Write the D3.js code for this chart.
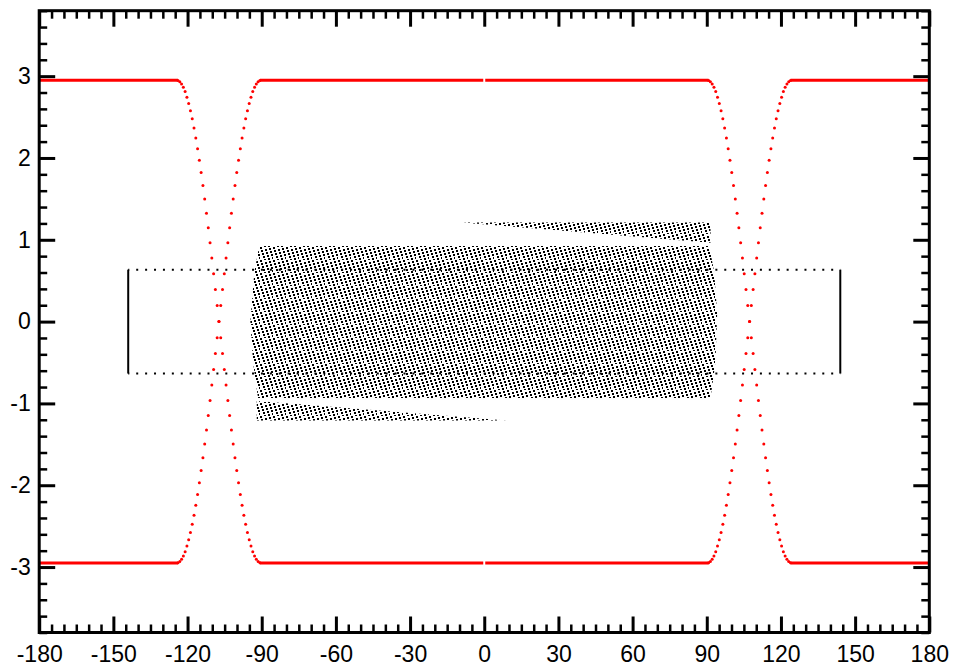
<!DOCTYPE html>
<html><head><meta charset="utf-8">
<script src="https://cdn.jsdelivr.net/npm/d3@7"></script>
<style>body{margin:0;background:#fff}svg{display:block}</style>
</head><body><svg id="c" width="956" height="670"></svg>
<script>
// ---------- data ----------
const xTicks = [-180,-150,-120,-90,-60,-30,0,30,60,90,120,150,180];
const yTicks = [-3,-2,-1,0,1,2,3];

// red curves: flat segments (at +/- level) and dotted transitions
const redLevels = [2.95, -2.95];
const flatStart = [-180, -90.74, 0.4, 123.86];
const flatEnd   = [-123.86, -0.4, 90.74, 180];
const transLeftX = [-123.86,-123.14,-122.42,-121.70,-120.98,-120.26,-119.54,-118.82,-118.10,-117.38,-116.66,-115.94,-115.22,-114.50,-113.78,-113.06,-112.34,-111.62,-110.90,-110.18,-109.46,-108.74,-108.02,-107.30,-106.58,-105.86,-105.14,-104.42,-103.70,-102.98,-102.26,-101.54,-100.82,-100.10,-99.38,-98.66,-97.94,-97.22,-96.50,-95.78,-95.06,-94.34,-93.62,-92.90,-92.18,-91.46,-90.74];
const transRightX = [90.74,91.46,92.18,92.90,93.62,94.34,95.06,95.78,96.50,97.22,97.94,98.66,99.38,100.10,100.82,101.54,102.26,102.98,103.70,104.42,105.14,105.86,106.58,107.30,108.02,108.74,109.46,110.18,110.90,111.62,112.34,113.06,113.78,114.50,115.22,115.94,116.66,117.38,118.10,118.82,119.54,120.26,120.98,121.70,122.42,123.14,123.86];
const transDescY = [2.948,2.933,2.905,2.865,2.812,2.743,2.667,2.578,2.478,2.367,2.245,2.113,1.971,1.821,1.663,1.497,1.325,1.147,0.963,0.776,0.585,0.391,0.196,0,-0.196,-0.391,-0.585,-0.776,-0.963,-1.147,-1.325,-1.497,-1.663,-1.821,-1.971,-2.113,-2.245,-2.367,-2.478,-2.578,-2.667,-2.743,-2.812,-2.865,-2.905,-2.933,-2.948];
const transAscY = [-2.948,-2.933,-2.905,-2.865,-2.812,-2.743,-2.667,-2.578,-2.478,-2.367,-2.245,-2.113,-1.971,-1.821,-1.663,-1.497,-1.325,-1.147,-0.963,-0.776,-0.585,-0.391,-0.196,0,0.196,0.391,0.585,0.776,0.963,1.147,1.325,1.497,1.663,1.821,1.971,2.113,2.245,2.367,2.478,2.578,2.667,2.743,2.812,2.865,2.905,2.933,2.948];

// black rectangle trace
const rectX = [-144, 144];
const rectY = [-0.635, 0.635];

// black dense dot cloud regions (outline vertices)
const blockX = [-91, 91, 93, 94.2, 93.5, 91.5, -91.5, -93.5, -94.6, -93];
const blockY = [0.925, 0.925, 0.6, 0.1, -0.5, -0.935, -0.935, -0.5, 0, 0.6];
const wedgeTopX = [-8.8, 91.5, 91.5];
const wedgeTopY = [1.21, 1.21, 0.965];
const wedgeBotX = [9.0, -92, -92];
const wedgeBotY = [-1.21, -1.21, -0.97];

// ---------- chart ----------
const svg = d3.select("#c");
svg.append("rect").attr("width",956).attr("height",670).attr("fill","#fff");
const L = 39.2, R = 929.3, T = 10.7, B = 632.5;
const x = d3.scaleLinear().domain([-180,180]).range([L,R]);
const y = d3.scaleLinear().domain([-3.8,3.8]).range([B,T]);

// dot-lattice texture (13x13 tile, slanted rows)
const defs = svg.append("defs");
const pat = defs.append("pattern").attr("id","lat")
  .attr("patternUnits","userSpaceOnUse").attr("width",13).attr("height",13);
pat.selectAll("rect").data(d3.range(13)).join("rect")
  .attr("x",k=>k).attr("y",k=>(3*k)%13).attr("width",2).attr("height",2)
  .attr("fill","#000").attr("shape-rendering","crispEdges");

const poly = d3.line().x(d=>x(d[0])).y(d=>y(d[1])).curve(d3.curveLinearClosed);
const regions = [
  d3.zip(blockX, blockY),
  d3.zip(wedgeTopX, wedgeTopY),
  d3.zip(wedgeBotX, wedgeBotY)
];
svg.append("g").selectAll("path").data(regions).join("path")
  .attr("d", poly).attr("fill","url(#lat)");

// rectangle: dotted horizontals, solid verticals
const gRect = svg.append("g");
gRect.selectAll("line.h").data(rectY).join("line").attr("class","h")
  .attr("x1",x(rectX[0])).attr("x2",x(rectX[1]))
  .attr("y1",d=>y(d)).attr("y2",d=>y(d))
  .attr("stroke","#000").attr("stroke-width",2)
  .attr("stroke-dasharray","2,6.91").attr("stroke-dashoffset",0.91);
gRect.selectAll("line.v").data(rectX).join("line").attr("class","v")
  .attr("x1",d=>x(d)).attr("x2",d=>x(d))
  .attr("y1",y(rectY[0])).attr("y2",y(rectY[1]))
  .attr("stroke","#000").attr("stroke-width",2);

// red curves
const red = "#ff0000";
const gRed = svg.append("g");
redLevels.forEach(lv => {
  flatStart.forEach((s,i) => {
    gRed.append("line").attr("x1",x(s)).attr("x2",x(flatEnd[i]))
      .attr("y1",y(lv)).attr("y2",y(lv))
      .attr("stroke",red).attr("stroke-width",3);
  });
});
const dots = [];
[transLeftX, transRightX].forEach(xs => {
  xs.forEach((xv,i) => { dots.push([xv, transDescY[i]]); dots.push([xv, transAscY[i]]); });
});
gRed.selectAll("circle").data(dots).join("circle")
  .attr("cx",d=>x(d[0])).attr("cy",d=>y(d[1])).attr("r",1.5).attr("fill",red);

// axes
const fmt = d => String(d);
const minorX = d3.range(-180, 181, 5).filter(v => v % 30 !== 0);
const minorY = d3.range(-19, 20).map(v => +(v*0.2).toFixed(1)).filter(v => Math.abs(v - Math.round(v)) > 1e-6);
function style(g, w){
  g.select(".domain").remove();
  g.selectAll("line").attr("stroke","#000").attr("stroke-width",w);
  g.attr("font-family","'Liberation Sans', Arial, sans-serif").attr("font-size",23);
  g.selectAll("text").attr("fill","#000");
}
svg.append("g").attr("transform",`translate(0,${B})`)
  .call(d3.axisBottom(x).tickValues(xTicks).tickSize(-16).tickSizeOuter(0).tickPadding(13).tickFormat(fmt))
  .call(g=>style(g,3));
svg.append("g").attr("transform",`translate(0,${B})`)
  .call(d3.axisBottom(x).tickValues(minorX).tickSize(-8).tickSizeOuter(0).tickFormat(""))
  .call(g=>style(g,2.5));
svg.append("g").attr("transform",`translate(0,${T})`)
  .call(d3.axisTop(x).tickValues(xTicks).tickSize(-16).tickSizeOuter(0).tickFormat(""))
  .call(g=>style(g,3));
svg.append("g").attr("transform",`translate(0,${T})`)
  .call(d3.axisTop(x).tickValues(minorX).tickSize(-8).tickSizeOuter(0).tickFormat(""))
  .call(g=>style(g,2.5));
svg.append("g").attr("transform",`translate(${L},0)`)
  .call(d3.axisLeft(y).tickValues(yTicks).tickSize(-16).tickSizeOuter(0).tickPadding(8.5).tickFormat(fmt))
  .call(g=>style(g,3));
svg.append("g").attr("transform",`translate(${L},0)`)
  .call(d3.axisLeft(y).tickValues(minorY).tickSize(-8).tickSizeOuter(0).tickFormat(""))
  .call(g=>style(g,2.5));
svg.append("g").attr("transform",`translate(${R},0)`)
  .call(d3.axisRight(y).tickValues(yTicks).tickSize(-16).tickSizeOuter(0).tickFormat(""))
  .call(g=>style(g,3));
svg.append("g").attr("transform",`translate(${R},0)`)
  .call(d3.axisRight(y).tickValues(minorY).tickSize(-8).tickSizeOuter(0).tickFormat(""))
  .call(g=>style(g,2.5));

svg.append("rect").attr("x",L).attr("y",T).attr("width",R-L).attr("height",B-T)
  .attr("fill","none").attr("stroke","#000").attr("stroke-width",3);
</script></body></html>
